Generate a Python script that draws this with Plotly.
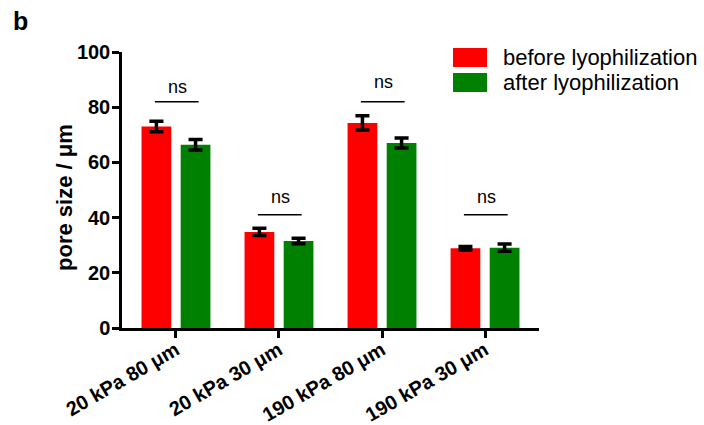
import plotly.graph_objects as go

# Pore size measurements (mean ± SD), µm
categories = ["20 kPa 80 μm", "20 kPa 30 μm", "190 kPa 80 μm", "190 kPa 30 μm"]
before_vals = [73.0, 34.8, 74.3, 28.9]
before_err = [1.9, 1.3, 2.6, 0.6]
after_vals = [66.4, 31.5, 67.0, 29.1]
after_err = [1.9, 1.0, 1.8, 1.3]
series_names = ["before lyophilization", "after lyophilization"]
series_colors = ["#ff0000", "#008000"]

# Significance brackets: bracket height and label height per group
bracket_y = [82.0, 41.0, 82.0, 41.0]
label_y = [87.2, 47.5, 89.2, 47.5]
sig_labels = ["ns", "ns", "ns", "ns"]

W, H = 704, 425
L, R, T, B = 122, 165, 52, 97
FONT = "Liberation Sans, Arial, sans-serif"


def px_x(p):
    return (p - L) / (W - L - R)


def px_y(p):
    return (H - B - p) / (H - T - B)


idx = list(range(len(categories)))

fig = go.Figure()
for name, vals, errs, color in [
    (series_names[0], before_vals, before_err, series_colors[0]),
    (series_names[1], after_vals, after_err, series_colors[1]),
]:
    fig.add_trace(go.Bar(
        x=idx, y=vals, name=name,
        marker=dict(color=color, line=dict(width=0)),
        error_y=dict(type="data", array=errs, visible=True,
                     color="black", thickness=3.5, width=7),
        showlegend=False,
    ))

shapes = []
annotations = []
for i, (by, ly, lab) in enumerate(zip(bracket_y, label_y, sig_labels)):
    shapes.append(dict(type="line", xref="x", yref="y",
                       x0=i - 0.205, x1=i + 0.22, y0=by, y1=by,
                       line=dict(color="black", width=1.5)))
    annotations.append(dict(x=i + 0.01, y=ly, xref="x", yref="y",
                            text=lab, showarrow=False,
                            font=dict(family=FONT, size=18, color="black"),
                            xanchor="center", yanchor="middle"))

# Legend drawn as colour swatches with labels
legend_rows = [(48, 67), (73, 92)]
for (y0, y1), name, color in zip(legend_rows, series_names, series_colors):
    shapes.append(dict(type="rect", xref="paper", yref="paper",
                       x0=px_x(453), x1=px_x(487), y0=px_y(y1), y1=px_y(y0),
                       fillcolor=color, line=dict(width=0)))
    annotations.append(dict(x=px_x(501), y=px_y((y0 + y1) / 2),
                            xref="paper", yref="paper", text=name,
                            showarrow=False, xanchor="left", yanchor="middle",
                            font=dict(family=FONT, size=22, color="black")))

# Panel letter
annotations.append(dict(x=px_x(11), y=px_y(5), xref="paper", yref="paper",
                        text="<b>b</b>", showarrow=False,
                        xanchor="left", yanchor="top",
                        font=dict(family=FONT, size=25, color="black")))

# Y-axis title
annotations.append(dict(x=px_x(64), y=px_y(198), xref="paper", yref="paper",
                        text="<b>pore size / μm</b>", showarrow=False,
                        textangle=-90, xanchor="center", yanchor="middle",
                        font=dict(family=FONT, size=22, color="black")))

fig.update_layout(
    width=W, height=H,
    margin=dict(l=L, r=R, t=T, b=B, pad=0, autoexpand=False),
    paper_bgcolor="white", plot_bgcolor="white",
    barmode="group", bargap=0.24, bargroupgap=0.24,
    shapes=shapes, annotations=annotations,
    showlegend=False,
    font=dict(family=FONT, color="black"),
)

fig.update_xaxes(
    tickmode="array", tickvals=idx, ticktext=categories,
    range=[-0.524, 3.524], automargin=False,
    showline=True, linecolor="black", linewidth=2.5,
    ticks="outside", ticklen=7, tickwidth=2.5, tickcolor="black",
    tickangle=-30, ticklabelstandoff=-7, showgrid=False, zeroline=False,
    tickfont=dict(family=FONT, size=20, color="black", weight="bold"),
)

fig.update_yaxes(
    range=[0, 100], tickvals=[0, 20, 40, 60, 80, 100], automargin=False,
    showline=True, linecolor="black", linewidth=2.5,
    ticks="outside", ticklen=7, tickwidth=2.5, tickcolor="black",
    ticklabelstandoff=-2, showgrid=False, zeroline=False,
    tickfont=dict(family=FONT, size=20, color="black", weight="bold"),
)

fig.write_html("out.html")
